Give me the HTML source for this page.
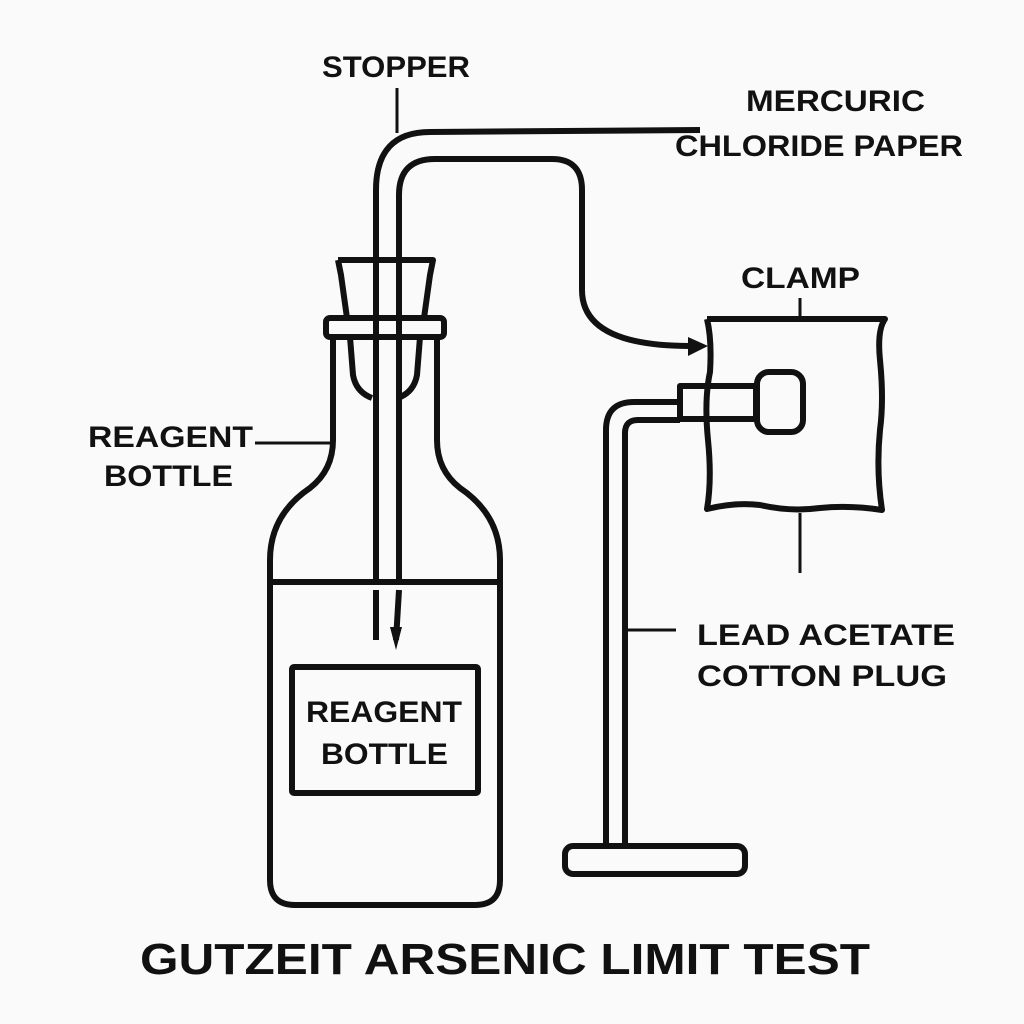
<!DOCTYPE html>
<html><head><style>
body{margin:0;background:#fafafa;}
svg{display:block}
text{font-family:"Liberation Sans",sans-serif;fill:#111;font-weight:bold;}
</style></head><body>
<svg width="1024" height="1024" viewBox="0 0 1024 1024">
<rect width="1024" height="1024" fill="#fafafa"/>
<g fill="none" stroke="#111" stroke-width="6" stroke-linejoin="round">
<path d="M333 337 L333 440 Q333 470 310 488 Q270 515 270 560 L270 880 Q270 905 295 905 L475 905 Q500 905 500 880 L500 560 Q500 515 460 488 Q437 470 437 440 L437 337"/>
<line x1="270" y1="582" x2="500" y2="582"/>
<rect x="292" y="667" width="186" height="126" rx="2"/>
<path d="M338 260 L433 260 L430 275 L424 318 M338 260 L341 275 L347 318"/>
<rect x="326" y="318" width="118" height="19" rx="4"/>
<path d="M350 337 L353 375 Q356 392 372 398 M420 337 L417 375 Q414 392 398 398"/>
<path d="M376 582 L376 190 Q376 132 430 132 L700 130"/>
<path d="M399 582 L399 195 Q399 159 435 159 L552 159 Q582 159 582 190 L582 290 Q582 346 690 346"/>
<path d="M376 590 L376 640 M399 590 L396 640"/>
<path d="M606 845 L606 430 Q606 402 634 402 L680 402"/>
<path d="M625 845 L625 433 Q625 420 638 420 L680 420"/>
<rect x="565" y="846" width="180" height="28" rx="8"/>
<rect x="680" y="386" width="76" height="33"/>
<rect x="757" y="372" width="46" height="60" rx="12"/>
<path d="M707 319 L885 319 Q877 330 880 360 Q884 400 880 430 Q876 470 882 510 Q850 505 820 508 Q790 512 760 505 Q735 502 707 509 Q712 480 708 440 Q704 400 710 372 Q712 340 707 319"/>
</g>
<g stroke="#111" stroke-width="3">
<line x1="397" y1="88" x2="397" y2="133"/>
<line x1="800" y1="298" x2="800" y2="318"/>
<line x1="800" y1="513" x2="800" y2="573"/>
<line x1="625" y1="630" x2="676" y2="630"/>
<line x1="255" y1="443" x2="330" y2="443"/>
</g>
<polygon points="688,337 708,346 688,356" fill="#111"/>
<polygon points="390,627 402,627 396,650" fill="#111"/>
<g font-size="30" lengthAdjust="spacingAndGlyphs">
<text x="322" y="77" textLength="148" lengthAdjust="spacingAndGlyphs">STOPPER</text>
<text x="746" y="111" textLength="179" lengthAdjust="spacingAndGlyphs">MERCURIC</text>
<text x="675" y="156" textLength="288" lengthAdjust="spacingAndGlyphs">CHLORIDE PAPER</text>
<text x="741" y="288" textLength="119" lengthAdjust="spacingAndGlyphs">CLAMP</text>
<text x="88" y="447" textLength="165" lengthAdjust="spacingAndGlyphs">REAGENT</text>
<text x="104" y="486" textLength="129" lengthAdjust="spacingAndGlyphs">BOTTLE</text>
<text x="697" y="645" textLength="258" lengthAdjust="spacingAndGlyphs">LEAD ACETATE</text>
<text x="697" y="686" textLength="250" lengthAdjust="spacingAndGlyphs">COTTON PLUG</text>
<text x="306" y="722" textLength="156" lengthAdjust="spacingAndGlyphs">REAGENT</text>
<text x="321" y="764" textLength="127" lengthAdjust="spacingAndGlyphs">BOTTLE</text>
</g>
<text x="140" y="974" font-size="44" textLength="730" lengthAdjust="spacingAndGlyphs">GUTZEIT ARSENIC LIMIT TEST</text>
</svg>
</body></html>
